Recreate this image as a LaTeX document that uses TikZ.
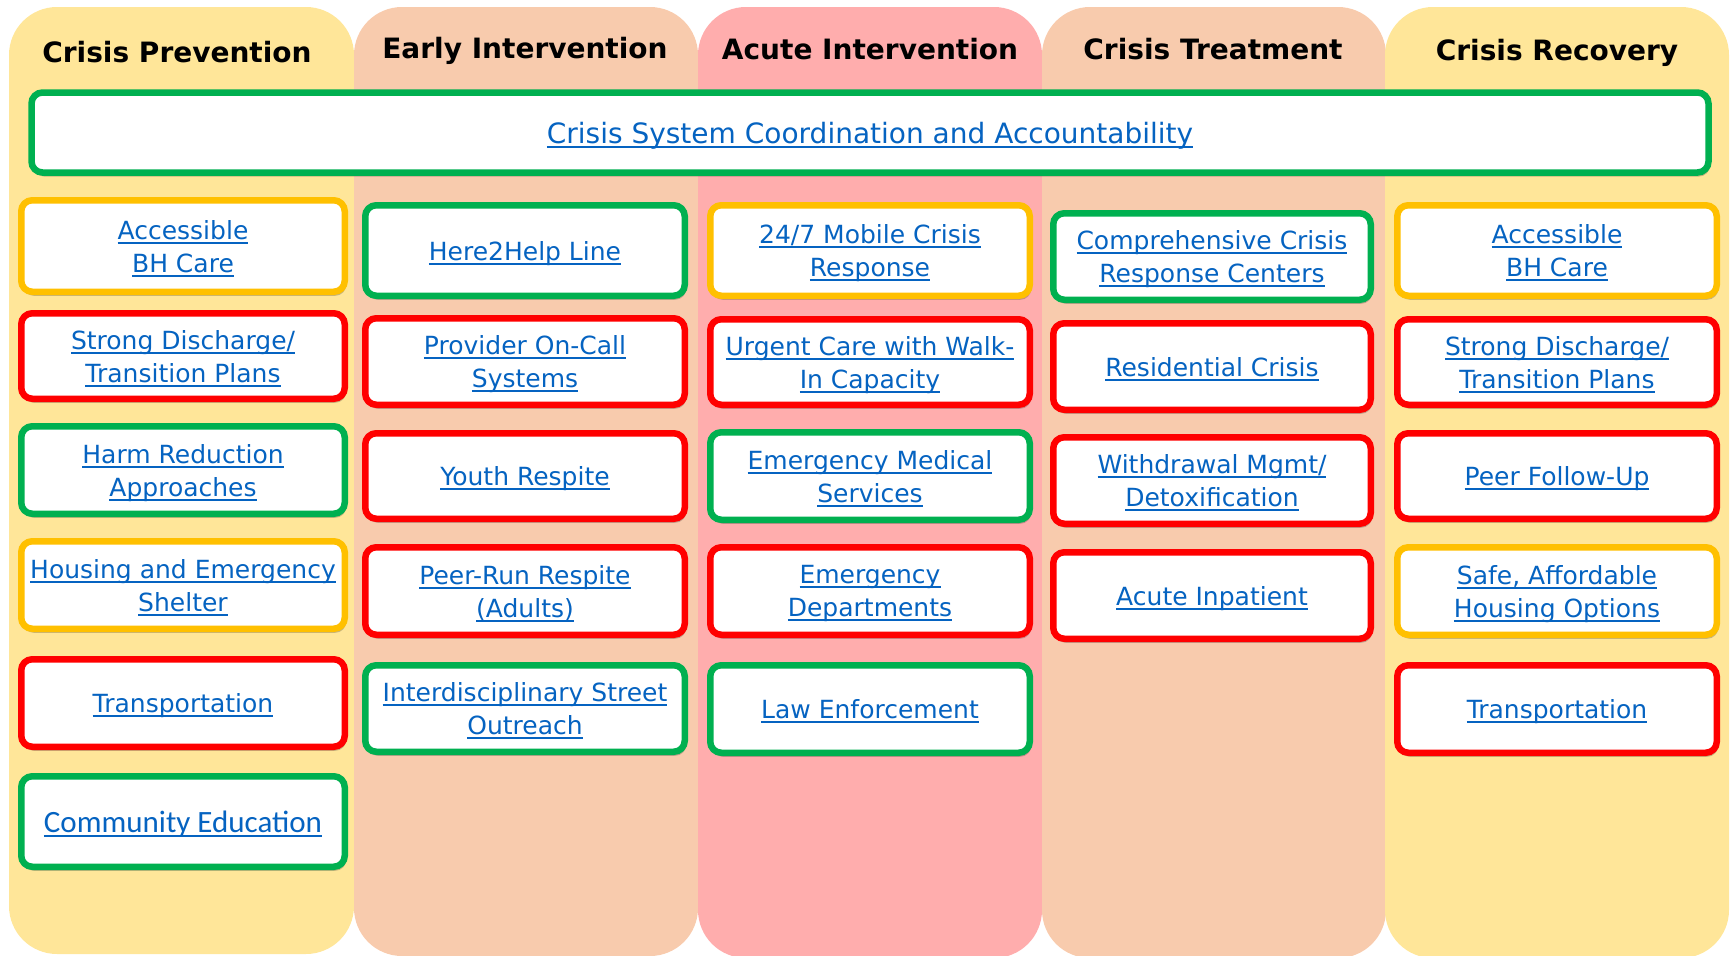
\documentclass[tikz,border=0pt]{standalone}
\usepackage{fontspec}
\setmainfont{DejaVu Sans}
\newfontfamily\calib{Carlito}
\usetikzlibrary{shadows}
\definecolor{cy}{HTML}{FFE699}
\definecolor{cp}{HTML}{F8CBAD}
\definecolor{ck}{HTML}{FFADAD}
\definecolor{bgr}{HTML}{00B050}
\definecolor{brd}{HTML}{FF0000}
\definecolor{bor}{HTML}{FFC000}
\definecolor{lnk}{HTML}{0563C1}
\newsavebox\lkbox
\newcommand\lk[1]{\leavevmode\sbox\lkbox{#1}\rlap{\smash{\rule[-4.5pt]{\wd\lkbox}{2pt}}}\raisebox{0pt}[\ht\lkbox][0pt]{\usebox\lkbox}}
\tikzset{
  cell/.style={draw=#1, line width=6.5pt, rounded corners=11pt, fill=white,
    align=center, text=lnk, inner sep=0pt,
    font=\fontsize{25}{33}\selectfont,
    drop shadow={shadow xshift=1.5pt, shadow yshift=-4pt, opacity=0.28, fill=black!80}},
  colbg/.style={fill=#1, rounded corners=48pt},
  head/.style={anchor=base, font=\bfseries\fontsize{28}{34}\selectfont, text=black},
}
% name, colour, x1, y1, x2, y2, text
\newcommand\cellbox[7]{%
  \node[cell=#2, minimum width={#5-#3-6.5}, minimum height={#6-#4-6.5}]
    (#1) at ({(#3+#5)/2},{(#4+#6)/2}) {#7};}
\begin{document}
\begin{tikzpicture}[x=1pt,y=-1pt]
\useasboundingbox (0,0) rectangle (1733,956);
% column backgrounds
\fill[colbg=cy] (9,7) rectangle (354,954);
\fill[colbg=cp] (354,7) rectangle (698,956);
\fill[colbg=ck] (698,7) rectangle (1042,958);
\fill[colbg=cp] (1042,7) rectangle (1386,958);
\fill[colbg=cy] (1385,7) rectangle (1729,958);
% headings
\node[head] (h1) at (177,62) {Crisis Prevention};
\node[head] (h2) at (525,58) {Early Intervention};
\node[head] (h3) at (870,59) {Acute Intervention};
\node[head] (h4) at (1213,59) {Crisis Treatment};
\node[head] (h5) at (1557,60) {Crisis Recovery};
% banner
\node[cell=bgr, minimum width=1677, minimum height=80, font=\fontsize{28}{34}\selectfont]
  (banner) at (870,132.5) {\lk{Crisis System Coordination and Accountability}};
% column 1
\cellbox{a1}{bor}{18}{197}{348}{295}{\lk{Accessible}\\\lk{BH Care}}
\cellbox{a2}{brd}{18}{310}{348}{402}{\lk{Strong Discharge/}\\\lk{Transition Plans}}
\cellbox{a3}{bgr}{18}{423}{348}{517}{\lk{Harm Reduction}\\\lk{Approaches}}
\cellbox{a4}{bor}{18}{538}{348}{632}{\lk{Housing and Emergency}\\\lk{Shelter}}
\cellbox{a5}{brd}{18}{656}{348}{750}{\lk{Transportation}}
\cellbox{a6}{bgr}{18}{773}{348}{870}{\calib\fontsize{31}{36}\selectfont\lk{Community Education}}
% column 2
\cellbox{b1}{bgr}{362}{202}{688}{299}{\lk{Here2Help Line}}
\cellbox{b2}{brd}{362}{315}{688}{408}{\lk{Provider On-Call}\\\lk{Systems}}
\cellbox{b3}{brd}{362}{430}{688}{522}{\lk{Youth Respite}}
\cellbox{b4}{brd}{362}{544}{688}{638}{\lk{Peer-Run Respite}\\\lk{(Adults)}}
\cellbox{b5}{bgr}{362}{662}{688}{755}{\lk{Interdisciplinary Street}\\\lk{Outreach}}
% column 3
\cellbox{c1}{bor}{707}{202}{1033}{299}{\lk{24/7 Mobile Crisis}\\\lk{Response}}
\cellbox{c2}{brd}{707}{316}{1033}{408}{\lk{Urgent Care with Walk-}\\\lk{In Capacity}}
\cellbox{c3}{bgr}{707}{429}{1033}{523}{\lk{Emergency Medical}\\\lk{Services}}
\cellbox{c4}{brd}{707}{544}{1033}{638}{\lk{Emergency}\\\lk{Departments}}
\cellbox{c5}{bgr}{707}{662}{1033}{756}{\lk{Law Enforcement}}
% column 4
\cellbox{d1}{bgr}{1050}{210}{1374}{303}{\lk{Comprehensive Crisis}\\\lk{Response Centers}}
\cellbox{d2}{brd}{1050}{320}{1374}{413}{\lk{Residential Crisis}}
\cellbox{d3}{brd}{1050}{434}{1374}{527}{\lk{Withdrawal Mgmt/}\\\lk{Detoxification}}
\cellbox{d4}{brd}{1050}{549}{1374}{642}{\lk{Acute Inpatient}}
% column 5
\cellbox{e1}{bor}{1394}{202}{1720}{299}{\lk{Accessible}\\\lk{BH Care}}
\cellbox{e2}{brd}{1394}{316}{1720}{408}{\lk{Strong Discharge/}\\\lk{Transition Plans}}
\cellbox{e3}{brd}{1394}{430}{1720}{522}{\lk{Peer Follow-Up}}
\cellbox{e4}{bor}{1394}{544}{1720}{638}{\lk{Safe, Affordable}\\\lk{Housing Options}}
\cellbox{e5}{brd}{1394}{662}{1720}{756}{\lk{Transportation}}
\end{tikzpicture}
\end{document}
